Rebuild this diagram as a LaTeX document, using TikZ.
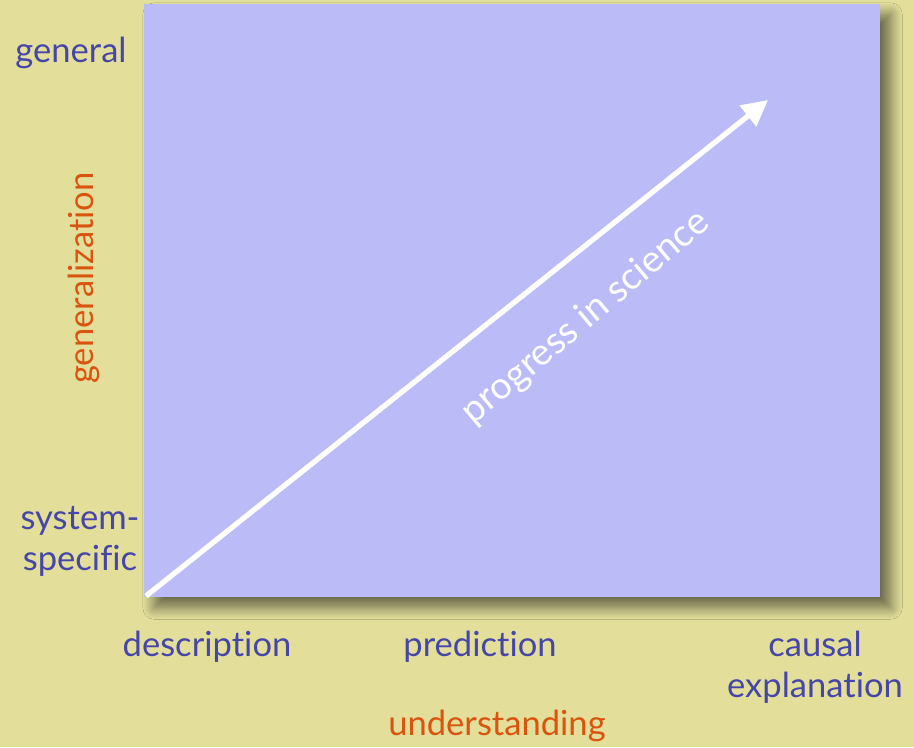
\documentclass[tikz,border=0pt]{standalone}
\usepackage{fontspec}
\setmainfont{Lato}[Ligatures={NoCommon}]
\usetikzlibrary{shadows.blur,arrows.meta}
\definecolor{fond}{HTML}{E3DF9B}
\definecolor{cadre}{HTML}{BBBBF8}
\definecolor{bleu}{HTML}{4646A8}
\definecolor{orange}{HTML}{D9540E}
\begin{document}
\begin{tikzpicture}[x=0.03cm,y=-0.03cm]
        % Styles pour les textes
        \tikzstyle{label} = [text=bleu,font=\fontsize{29.5}{35}\selectfont,align=center]
        \tikzstyle{axe} = [text=orange,font=\fontsize{29.5}{35}\selectfont]
        \tikzstyle{arrow} = [white,line width=4.5pt,-{Triangle[length=22pt,width=22pt]}]

        % Fond
        \fill[fond] (0,0) rectangle (914,747);
        \useasboundingbox (0,0) rectangle (914,747);

        % Cadre bleu avec ombre
        \fill[cadre,blur shadow={shadow xshift=9pt,shadow yshift=-9pt,shadow blur steps=16,shadow blur radius=10pt,shadow opacity=55}]
            (144,4) rectangle (880,597);

        % Etiquettes de l'axe vertical
        \node[label] (gen) at (71,53) {general};
        \node[label] (spec) at (80,541) {system-\\specific};
        \node[axe,rotate=90] (gener) at (84,278) {generalization};

        % Etiquettes de l'axe horizontal
        \node[label] (desc) at (207,647) {description};
        \node[label] (pred) at (480,647) {prediction};
        \node[label] (caus) at (815,667) {causal\\explanation};
        \node[axe] (under) at (497,726) {understanding};

        % Fleche du progres
        \coordinate (origine) at (146,596);
        \coordinate (pointe) at (768,100);
        \draw[arrow] (origine) -- (pointe);
        \node[text=white,font=\fontsize{32}{38}\selectfont,rotate=40] (prog) at (586,318) {progress in science};
\end{tikzpicture}
\end{document}
